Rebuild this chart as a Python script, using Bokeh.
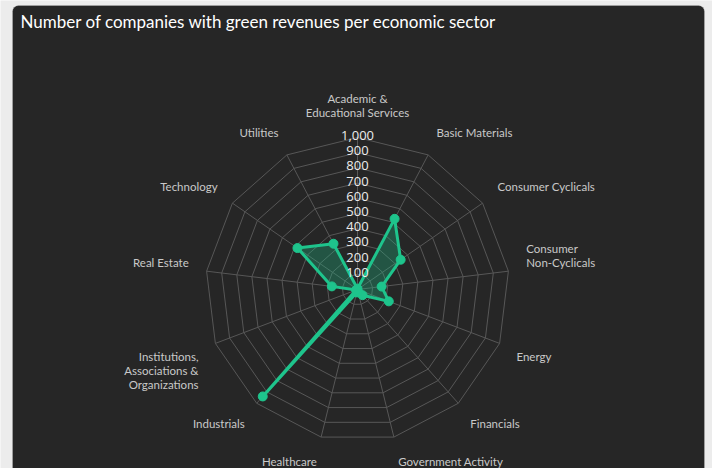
import numpy as np
from bokeh.plotting import figure
from bokeh.models import Range1d, BoxAnnotation
from bokeh.core.properties import value
from bokeh.embed import file_html
from bokeh.resources import INLINE

# ---- data ----
categories = [
    "Academic &\nEducational Services",
    "Basic Materials",
    "Consumer Cyclicals",
    "Consumer\nNon-Cyclicals",
    "Energy",
    "Financials",
    "Government Activity",
    "Healthcare",
    "Industrials",
    "Institutions,\nAssociations &\nOrganizations",
    "Real Estate",
    "Technology",
    "Utilities",
]
companies = [5, 525, 345, 160, 220, 50, 15, 20, 940, 10, 170, 480, 340]
radial_ticks = [100, 200, 300, 400, 500, 600, 700, 800, 900, 1000]
radial_tick_labels = ["100", "200", "300", "400", "500", "600", "700", "800", "900", "1,000"]
title_text = "Number of companies with green revenues per economic sector"

# ---- layout ----
W, H = 712, 468
CX, CY = 357, 289          # pane centre in canvas px (from top-left)
RPX = 152                  # outer radius in px
RMAX = 1000.0
scale = RPX / RMAX         # px per value unit

PAGE = "#ececec"
BG = "#262626"
GRID = "#575757"
GREEN = "#1ec48c"
LABEL = "#c9c9c9"


def to_x(px_):
    return (px_ - CX) / scale


def to_y(py_):
    return (CY - py_) / scale


p = figure(width=W, height=H, output_backend="svg", toolbar_location=None,
           x_range=Range1d(to_x(0), to_x(W)),
           y_range=Range1d(to_y(H), to_y(0)),
           min_border=0, min_border_left=0, min_border_right=0,
           min_border_top=0, min_border_bottom=0)
p.axis.visible = False
p.grid.visible = False
p.outline_line_color = None
p.background_fill_color = PAGE
p.border_fill_color = PAGE

# card
p.add_layout(BoxAnnotation(left=to_x(12), right=to_x(704), top=to_y(5),
                           bottom=to_y(480), fill_color=BG, fill_alpha=1.0,
                           line_color="#d0d0d0", line_width=1,
                           border_radius=6, level="underlay"))

n = len(categories)
theta = 2 * np.pi * np.arange(n) / n
sx, sy = np.sin(theta), np.cos(theta)

# grid rings
ring_xs, ring_ys = [], []
for t in radial_ticks:
    ring_xs.append(list(np.append(t * sx, t * sx[0])))
    ring_ys.append(list(np.append(t * sy, t * sy[0])))
p.multi_line(ring_xs, ring_ys, line_color=GRID, line_width=1)

# spokes
p.multi_line([[0, RMAX * a] for a in sx], [[0, RMAX * b] for b in sy],
             line_color=GRID, line_width=1)

# series
vals = np.array(companies, dtype=float)
px, py = vals * sx, vals * sy
p.patch(list(px), list(py), fill_color=GREEN, fill_alpha=0.3,
        line_color=GREEN, line_width=3, line_join="round")
p.scatter(list(px), list(py), size=9, marker="circle",
          fill_color=GREEN, line_color=GREEN)

# radial tick labels
p.text(x=[0] * len(radial_ticks), y=radial_ticks, text=radial_tick_labels,
       text_align="center", text_baseline="middle", y_offset=-2,
       text_font=value("Open Sans"), text_font_size="13px",
       text_color="#ececec")

# category labels
rl = RMAX + 18 / scale
for i, cat in enumerate(categories):
    dx, dy = sx[i], sy[i]
    align = "left" if dx > 0.15 else ("right" if dx < -0.15 else "center")
    base = "bottom" if dy > -0.2 else "top"
    p.text(x=[rl * dx], y=[rl * dy], text=[cat], text_align=align,
           text_baseline=base, text_font=value("Lato"),
           text_font_size="11.5px", text_color=LABEL, text_line_height=1.1)

# title
p.text(x=[to_x(20)], y=[to_y(21)], text=[title_text],
       text_align="left", text_baseline="middle",
       text_font=value("Lato"), text_font_size="17px", text_color="#ffffff")

open("out.html", "w").write(file_html(p, INLINE))
